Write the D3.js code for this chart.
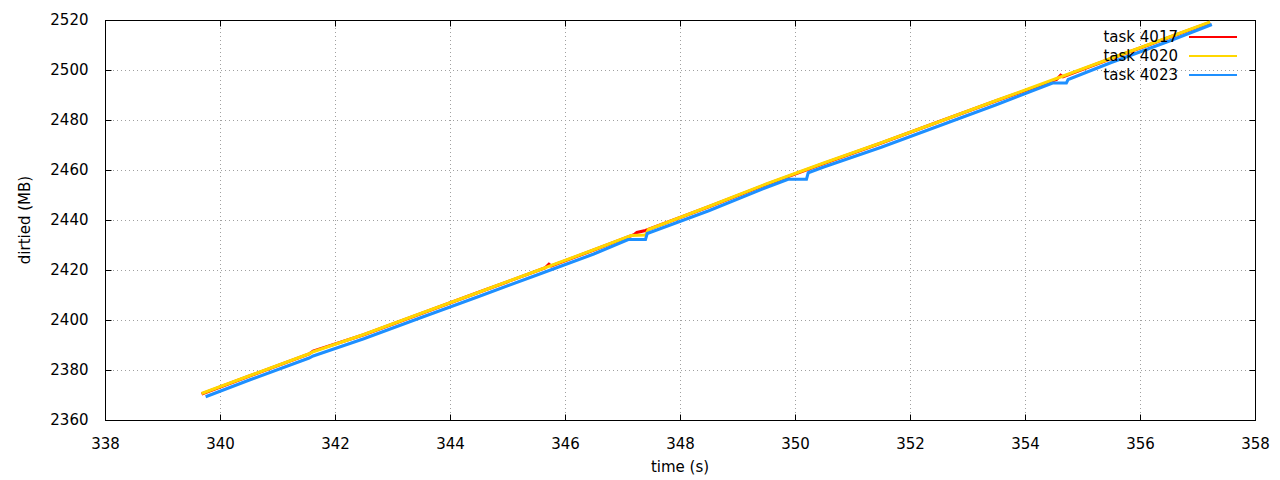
<!DOCTYPE html>
<html>
<head>
<meta charset="utf-8">
<script src="https://cdn.jsdelivr.net/npm/d3@7"></script>
<style>
  html, body { margin: 0; padding: 0; background: #fff; }
  svg { display: block; }
  text { font-family: "DejaVu Sans", sans-serif; fill: #000; }
</style>
</head>
<body>
<svg id="chart" width="1280" height="480"></svg>
<script>
// ---- data ----
const seriesNames = ["task 4017", "task 4020", "task 4023"];
const seriesColors = ["#ff0000", "#ffd700", "#1e90ff"];

const t4017 = [339.68, 340.5, 341.55, 341.62, 342.5, 343.5, 344.5, 345.65, 345.72, 345.76, 346.5, 347.2, 347.25, 347.4, 348.5, 349.5, 350.5, 351.5, 352.5, 353.5, 354.55, 354.62, 354.66, 355.5, 356.5, 357.22];
const v4017 = [2370.4, 2377.5, 2386.4, 2387.6, 2394.1, 2402.6, 2411.1, 2420.8, 2422.3, 2421.6, 2428.0, 2434.1, 2435.0, 2435.8, 2445.3, 2454.2, 2462.6, 2470.8, 2479.3, 2487.7, 2496.2, 2497.9, 2497.3, 2504.6, 2513.0, 2519.0];

const t4020 = [339.68, 340.5, 341.55, 341.62, 342.5, 343.5, 344.5, 345.5, 346.5, 347.15, 347.4, 347.45, 348.5, 349.5, 350.5, 351.5, 352.5, 353.5, 354.5, 355.5, 356.5, 357.22];
const v4020 = [2370.6, 2377.6, 2386.5, 2387.3, 2394.2, 2402.7, 2411.1, 2419.6, 2428.1, 2433.8, 2434.0, 2436.2, 2445.4, 2454.4, 2462.8, 2470.9, 2479.3, 2487.8, 2496.2, 2504.7, 2513.1, 2519.2];

const t4023 = [339.75, 340.5, 341.55, 341.62, 342.5, 343.5, 344.5, 345.5, 346.5, 347.1, 347.4, 347.43, 348.5, 349.5, 349.88, 350.2, 350.23, 350.5, 351.5, 352.5, 353.5, 354.48, 354.72, 354.75, 355.5, 356.5, 357.25];
const v4023 = [2369.3, 2375.9, 2384.8, 2385.6, 2392.5, 2401.0, 2409.4, 2417.9, 2426.4, 2432.2, 2432.2, 2434.6, 2443.7, 2453.0, 2456.3, 2456.3, 2458.9, 2461.2, 2469.1, 2477.6, 2486.1, 2494.8, 2494.8, 2496.2, 2503.0, 2511.5, 2518.2];

const xTicks = [338, 340, 342, 344, 346, 348, 350, 352, 354, 356, 358];
const yTicks = [2360, 2380, 2400, 2420, 2440, 2460, 2480, 2500, 2520];
const xLabel = "time (s)";
const yLabel = "dirtied (MB)";

// ---- layout ----
const svg = d3.select("#chart");
const L = 105, R = 1255, T = 20, B = 420;
const x = d3.scaleLinear().domain([338, 358]).range([L, R]);
const y = d3.scaleLinear().domain([2360, 2520]).range([B, T]);
const fs = 15;

// grid
const grid = svg.append("g").attr("stroke", "#a0a0a0").attr("stroke-width", 1).attr("stroke-dasharray", "1,3");
xTicks.slice(1, -1).forEach(v => {
  grid.append("line").attr("x1", Math.round(x(v)) + 0.5).attr("x2", Math.round(x(v)) + 0.5).attr("y1", T).attr("y2", B);
});
yTicks.slice(1, -1).forEach(v => {
  grid.append("line").attr("x1", L).attr("x2", R).attr("y1", Math.round(y(v)) + 0.5).attr("y2", Math.round(y(v)) + 0.5);
});

// axes with inward ticks (mirrored)
const tk = 6;
const axB = svg.append("g").attr("transform", `translate(0,${B + 0.5})`)
  .call(d3.axisBottom(x).tickValues(xTicks).tickSizeInner(-tk).tickSizeOuter(0).tickPadding(12 + tk).tickFormat(d3.format("d")));
const axT = svg.append("g").attr("transform", `translate(0,${T + 0.5})`)
  .call(d3.axisTop(x).tickValues(xTicks).tickSizeInner(-tk).tickSizeOuter(0).tickFormat(""));
const axL = svg.append("g").attr("transform", `translate(${L + 0.5},0)`)
  .call(d3.axisLeft(y).tickValues(yTicks).tickSizeInner(-tk).tickSizeOuter(0).tickPadding(11 + tk).tickFormat(d3.format("d")));
const axR = svg.append("g").attr("transform", `translate(${R + 0.5},0)`)
  .call(d3.axisRight(y).tickValues(yTicks).tickSizeInner(-tk).tickSizeOuter(0).tickFormat(""));
[axB, axT, axL, axR].forEach(a => {
  a.select(".domain").remove();
  a.selectAll("line").attr("stroke", "#000");
  a.selectAll("text").attr("font-size", fs).attr("font-family", "DejaVu Sans, sans-serif").attr("fill", "#000");
});

// border
svg.append("rect").attr("x", L + 0.5).attr("y", T + 0.5).attr("width", R - L).attr("height", B - T)
  .attr("fill", "none").attr("stroke", "#000").attr("stroke-width", 1);

// axis labels
svg.append("text").attr("x", (L + R) / 2).attr("y", 472).attr("text-anchor", "middle").attr("font-size", fs).text(xLabel);
svg.append("text").attr("transform", `translate(30,${(T + B) / 2}) rotate(-90)`).attr("text-anchor", "middle").attr("font-size", fs).text(yLabel);

// series
const series = [
  { name: seriesNames[0], color: seriesColors[0], t: t4017, v: v4017 },
  { name: seriesNames[1], color: seriesColors[1], t: t4020, v: v4020 },
  { name: seriesNames[2], color: seriesColors[2], t: t4023, v: v4023 }
];
const line = d3.line().x(d => x(d[0])).y(d => y(d[1]));
const plot = svg.append("g");
series.forEach(s => {
  const pts = s.t.map((t, i) => [t, s.v[i]]);
  plot.append("path").attr("d", line(pts)).attr("fill", "none")
    .attr("stroke", s.color).attr("stroke-width", 3).attr("stroke-linejoin", "miter");
});

// legend
const leg = svg.append("g");
series.forEach((s, i) => {
  const yy = 37 + i * 19;
  leg.append("text").attr("x", 1178).attr("y", yy).attr("dy", "0.35em").attr("text-anchor", "end").attr("font-size", fs).text(s.name);
  leg.append("line").attr("x1", 1189).attr("x2", 1237).attr("y1", yy).attr("y2", yy).attr("stroke", s.color).attr("stroke-width", 2);
});
</script>
</body>
</html>
